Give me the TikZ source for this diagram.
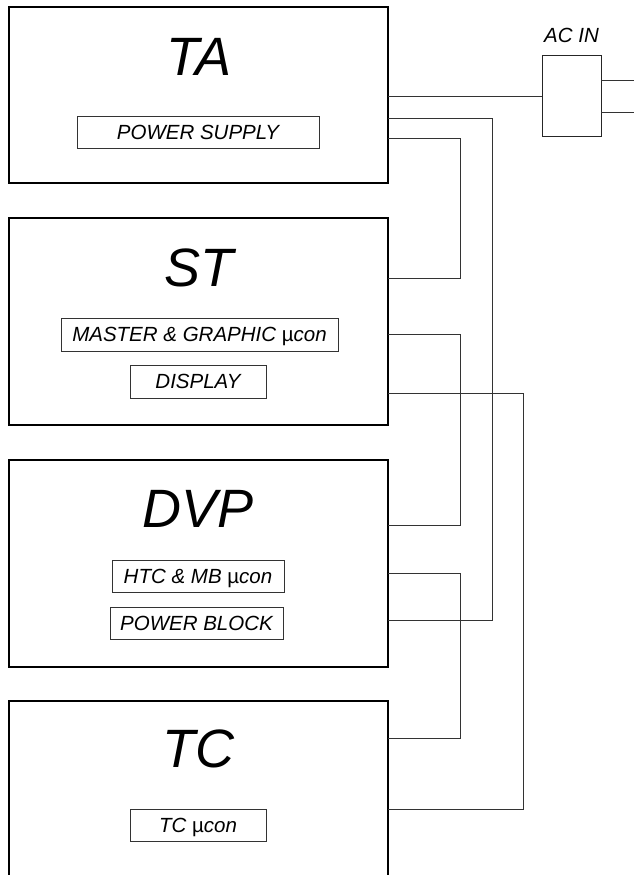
\documentclass[tikz,border=0pt]{standalone}
\usepackage{fontspec}
\setmainfont{Liberation Sans}
\begin{document}
\begin{tikzpicture}[x=1pt,y=-1pt,
  unit/.style={draw=black,line width=1.3pt,minimum width=379pt,outer sep=0pt,inner sep=0pt},
  title/.style={font=\fontsize{54}{60}\selectfont\itshape,anchor=base,inner sep=0pt},
  sub/.style={draw=black!80,line width=0.9pt,inner sep=0pt,outer sep=0pt,font=\fontsize{20.5}{24}\selectfont\itshape,minimum height=32pt,text height=14.7pt,text depth=0pt},
  wire/.style={draw=black!80,line width=1pt}]
\useasboundingbox (0,0) rectangle (634,875);
\clip (0,0) rectangle (634,875);
% main units
\node[unit,minimum height=176pt] (TA) at (198.5,95) {};
\node[unit,minimum height=207pt] (ST) at (198.5,321.5) {};
\node[unit,minimum height=207pt] (DVP) at (198.5,563.5) {};
\node[unit,minimum height=190pt] (TC) at (198.5,796) {};
% titles
\node[title] (taT) at (198.5,75) {TA};
\node[title] (stT) at (198.5,286) {ST};
\node[title] (dvpT) at (198.5,527) {DVP};
\node[title] (tcT) at (198.5,767) {TC};
% sub blocks
\node[sub,minimum width=242pt] (ps) at (198,132) {POWER SUPPLY};
\node[sub,minimum width=277pt,minimum height=33pt] (mg) at (199.5,334.5) {MASTER \& GRAPHIC {\upshape µ}con};
\node[sub,minimum width=136pt,minimum height=33pt] (disp) at (198,381.5) {DISPLAY};
\node[sub,minimum width=172pt] (htc) at (198,576) {HTC \& MB {\upshape µ}con};
\node[sub,minimum width=173pt] (pb) at (196.5,623) {POWER BLOCK};
\node[sub,minimum width=136pt] (tcm) at (198,825) {TC {\upshape µ}con};
% AC inlet
\node[draw=black!85,line width=1pt,minimum width=59pt,minimum height=80pt,inner sep=0pt,outer sep=0pt] (ac) at (571.5,96) {};
\node[anchor=base,font=\fontsize{20.5}{24}\selectfont\itshape,inner sep=0pt] (acl) at (571.5,43) {AC IN};
\coordinate (p1) at (634,80);
\coordinate (p2) at (634,112);
\draw[wire] (ac.east |- p1) -- (p1);
\draw[wire] (ac.east |- p2) -- (p2);
% connection points
\coordinate (ta2) at (TA.east |- 0,118);
\coordinate (ta3) at (TA.east |- 0,138);
\coordinate (st1) at (ST.east |- 0,278);
\coordinate (st2) at (ST.east |- 0,334);
\coordinate (st3) at (ST.east |- 0,393);
\coordinate (dvp1) at (DVP.east |- 0,525);
\coordinate (dvp2) at (DVP.east |- 0,573);
\coordinate (dvp3) at (DVP.east |- 0,620);
\coordinate (tc1) at (TC.east |- 0,738);
\coordinate (tc2) at (TC.east |- 0,809);
% wires
\draw[wire] (TA.east |- ac.west) -- (ac.west);
\draw[wire] (ta3) -- ++(72,0) |- (st1);
\draw[wire] (ta2) -- ++(104,0) |- (dvp3);
\draw[wire] (st2) -- ++(72,0) |- (dvp1);
\draw[wire] (st3) -- ++(135,0) |- (tc2);
\draw[wire] (dvp2) -- ++(72,0) |- (tc1);
\end{tikzpicture}
\end{document}
